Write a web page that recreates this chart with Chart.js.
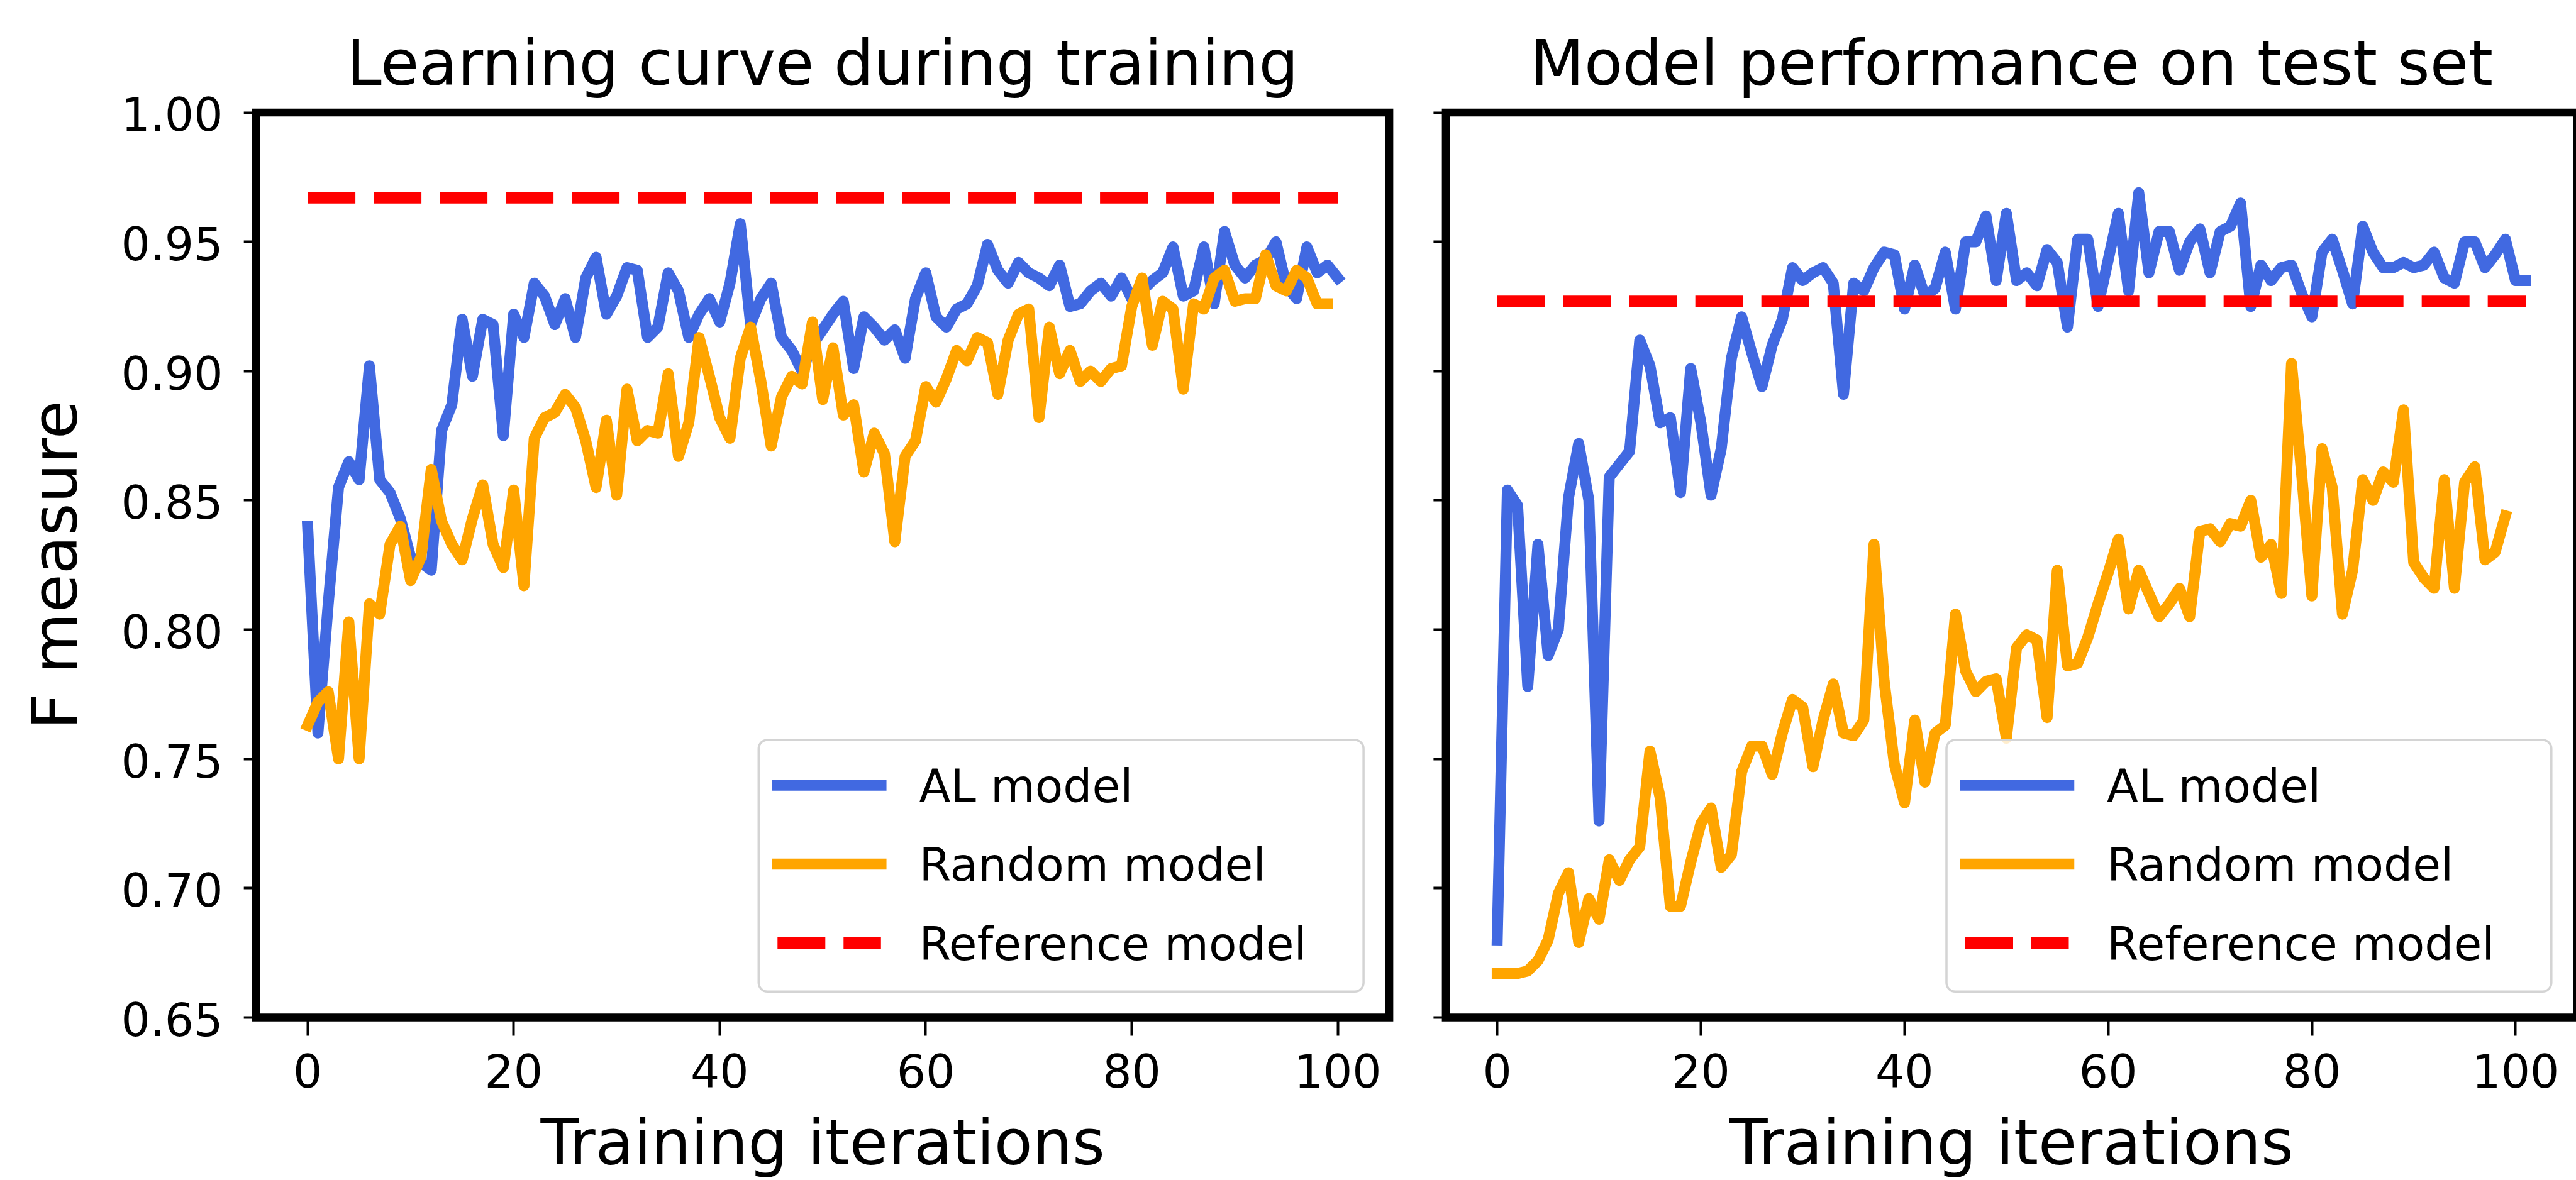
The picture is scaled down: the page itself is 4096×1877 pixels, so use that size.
<!DOCTYPE html>
<html>
<head>
<meta charset="utf-8">
<title>Learning curve / test performance</title>
<script src="https://cdn.jsdelivr.net/npm/chart.js@4.4.1/dist/chart.umd.min.js"></script>
<style>
  html, body { margin: 0; padding: 0; background: #fff; width: 4096px; height: 1877px; overflow: hidden; }
  canvas { position: absolute; top: 0; }
  #testChart { left: 2239px; }
  #trainChart { left: 0; }
</style>
</head>
<body>
<canvas id="testChart" width="1919" height="1877"></canvas>
<canvas id="trainChart" width="2616" height="1877"></canvas>
<script>
// Values (F measure per training iteration)
const alTrain = [
  0.840, 0.760, 0.810, 0.855, 0.865, 0.858, 0.902, 0.858, 0.853, 0.843,
  0.828, 0.826, 0.823, 0.877, 0.887, 0.920, 0.898, 0.920, 0.918, 0.875,
  0.922, 0.913, 0.934, 0.929, 0.918, 0.928, 0.913, 0.936, 0.944, 0.922,
  0.929, 0.940, 0.939, 0.913, 0.917, 0.938, 0.931, 0.913, 0.922, 0.928,
  0.919, 0.934, 0.957, 0.918, 0.928, 0.934, 0.913, 0.908, 0.900, 0.910,
  0.916, 0.922, 0.927, 0.901, 0.921, 0.917, 0.912, 0.916, 0.905, 0.928,
  0.938, 0.921, 0.917, 0.924, 0.926, 0.933, 0.949, 0.939, 0.934, 0.942,
  0.938, 0.936, 0.933, 0.941, 0.925, 0.926, 0.931, 0.934, 0.929, 0.936,
  0.928, 0.931, 0.935, 0.938, 0.948, 0.929, 0.931, 0.948, 0.926, 0.954,
  0.941, 0.936, 0.941, 0.943, 0.950, 0.933, 0.928, 0.948, 0.938, 0.941,
  0.936
];
const randomTrain = [
  0.763, 0.772, 0.776, 0.750, 0.803, 0.750, 0.810, 0.806, 0.833, 0.840,
  0.819, 0.828, 0.862, 0.842, 0.833, 0.827, 0.843, 0.856, 0.833, 0.824,
  0.854, 0.817, 0.874, 0.882, 0.884, 0.891, 0.886, 0.873, 0.855, 0.881,
  0.852, 0.893, 0.873, 0.877, 0.876, 0.899, 0.867, 0.880, 0.913, 0.898,
  0.882, 0.874, 0.905, 0.917, 0.896, 0.871, 0.890, 0.898, 0.895, 0.919,
  0.889, 0.909, 0.883, 0.887, 0.861, 0.876, 0.868, 0.834, 0.867, 0.873,
  0.894, 0.888, 0.897, 0.908, 0.904, 0.913, 0.911, 0.891, 0.912, 0.922,
  0.924, 0.882, 0.917, 0.899, 0.908, 0.896, 0.900, 0.896, 0.901, 0.902,
  0.925, 0.936, 0.910, 0.927, 0.924, 0.893, 0.926, 0.924, 0.936, 0.939,
  0.927, 0.928, 0.928, 0.945, 0.933, 0.931, 0.939, 0.936, 0.926, 0.926
];
const alTest = [
  0.680, 0.854, 0.848, 0.778, 0.833, 0.790, 0.800, 0.851, 0.872, 0.850,
  0.726, 0.859, 0.864, 0.869, 0.912, 0.902, 0.880, 0.882, 0.853, 0.901,
  0.880, 0.852, 0.870, 0.905, 0.921, 0.907, 0.894, 0.910, 0.920, 0.940,
  0.935, 0.938, 0.940, 0.934, 0.891, 0.934, 0.931, 0.940, 0.946, 0.945,
  0.924, 0.941, 0.929, 0.932, 0.946, 0.924, 0.950, 0.950, 0.960, 0.935,
  0.961, 0.935, 0.938, 0.933, 0.947, 0.942, 0.917, 0.951, 0.951, 0.925,
  0.943, 0.961, 0.931, 0.969, 0.938, 0.954, 0.954, 0.939, 0.950, 0.955,
  0.938, 0.954, 0.956, 0.965, 0.925, 0.941, 0.935, 0.940, 0.941, 0.930,
  0.921, 0.946, 0.951, 0.939, 0.926, 0.956, 0.946, 0.940, 0.940, 0.942,
  0.940, 0.941, 0.946, 0.936, 0.934, 0.950, 0.950, 0.940, 0.945, 0.951,
  0.935, 0.935
];
const randomTest = [
  0.667, 0.667, 0.667, 0.668, 0.672, 0.680, 0.698, 0.706, 0.679, 0.696,
  0.688, 0.711, 0.703, 0.711, 0.716, 0.753, 0.735, 0.693, 0.693, 0.710,
  0.725, 0.731, 0.708, 0.713, 0.745, 0.755, 0.755, 0.744, 0.760, 0.773,
  0.770, 0.747, 0.765, 0.779, 0.760, 0.759, 0.765, 0.833, 0.780, 0.748,
  0.733, 0.765, 0.741, 0.760, 0.763, 0.806, 0.784, 0.776, 0.780, 0.781,
  0.758, 0.793, 0.798, 0.796, 0.766, 0.823, 0.786, 0.787, 0.797, 0.810,
  0.822, 0.835, 0.808, 0.823, 0.814, 0.805, 0.810, 0.816, 0.805, 0.838,
  0.839, 0.834, 0.841, 0.840, 0.850, 0.828, 0.833, 0.814, 0.903, 0.860,
  0.813, 0.870, 0.855, 0.806, 0.823, 0.858, 0.850, 0.861, 0.857, 0.885,
  0.826, 0.820, 0.816, 0.858, 0.816, 0.857, 0.863, 0.827, 0.830, 0.844
];
const refTrain = 0.967;
const refTest = 0.927;

const xTicks = [0, 20, 40, 60, 80, 100];
const yTicks = [0.65, 0.70, 0.75, 0.80, 0.85, 0.90, 0.95, 1.00];

Chart.defaults.font.family = '"DejaVu Sans", sans-serif';
Chart.defaults.color = '#000';

const TEXT_BIG = 99.6;
const TEXT_SMALL = 72.8;

// matplotlib-like box around the axes
const spinePlugin = {
  id: 'spines',
  afterDatasetsDraw(chart) {
    const { ctx, chartArea: a } = chart;
    ctx.save();
    ctx.strokeStyle = '#000';
    ctx.lineWidth = 12.5;
    ctx.lineJoin = 'miter';
    ctx.strokeRect(a.left, a.top, a.right - a.left, a.bottom - a.top);
    ctx.restore();
  }
};

function roundedBox(ctx, x, y, w, h, r) {
  ctx.beginPath();
  ctx.moveTo(x + r, y);
  ctx.arcTo(x + w, y, x + w, y + h, r);
  ctx.arcTo(x + w, y + h, x, y + h, r);
  ctx.arcTo(x, y + h, x, y, r);
  ctx.arcTo(x, y, x + w, y, r);
  ctx.closePath();
}

// Legend drawn inside the plot, lower right corner
const insetLegend = {
  id: 'insetLegend',
  afterDraw(chart, args, opts) {
    const { ctx, chartArea: a } = chart;
    const x0 = a.right - opts.right - opts.width;
    const y0 = a.bottom - opts.bottom - opts.height;
    ctx.save();
    roundedBox(ctx, x0, y0, opts.width, opts.height, opts.radius);
    ctx.fillStyle = 'rgba(255,255,255,0.8)';
    ctx.fill();
    ctx.lineWidth = opts.borderWidth;
    ctx.strokeStyle = opts.borderColor;
    ctx.stroke();

    ctx.font = TEXT_SMALL + 'px "DejaVu Sans"';
    ctx.textAlign = 'left';
    ctx.textBaseline = 'alphabetic';
    chart.data.datasets.forEach((ds, k) => {
      const y = y0 + opts.firstRow + k * opts.rowGap;
      ctx.beginPath();
      ctx.setLineDash(ds.borderDash || []);
      ctx.lineCap = ds.borderCapStyle || 'butt';
      ctx.lineWidth = ds.borderWidth;
      ctx.strokeStyle = ds.borderColor;
      ctx.moveTo(x0 + opts.handleStart, y);
      ctx.lineTo(x0 + opts.handleEnd, y);
      ctx.stroke();
      ctx.setLineDash([]);
      ctx.fillStyle = '#000';
      ctx.fillText(ds.label, x0 + opts.textX, y + opts.textDrop);
    });
    ctx.restore();
  }
};

function series(label, values, color, order) {
  return {
    label,
    data: values.map((v, i) => ({ x: i, y: v })),
    borderColor: color,
    borderWidth: 17.5,
    borderCapStyle: 'square',
    borderJoinStyle: 'round',
    pointRadius: 0,
    tension: 0,
    fill: false,
    order
  };
}

function reference(value, lastX) {
  return {
    label: 'Reference model',
    data: [{ x: 0, y: value }, { x: lastX, y: value }],
    borderColor: '#ff0000',
    borderWidth: 18,
    borderDash: [76, 29],
    borderCapStyle: 'butt',
    pointRadius: 0,
    fill: false,
    order: 1
  };
}

function makePanel(id, opts) {
  const { title, al, random, ref, xMin, xMax, yWidth, rightWidth, showYLabels } = opts;
  return new Chart(document.getElementById(id), {
    type: 'line',
    data: {
      datasets: [
        series('AL model', al, '#4169e1', 3),
        series('Random model', random, '#ffa500', 2),
        reference(ref, al.length - 1)
      ]
    },
    plugins: [spinePlugin, insetLegend],
    options: {
      responsive: false,
      devicePixelRatio: 1,
      animation: false,
      layout: { padding: 0 },
      plugins: {
        legend: { display: false },
        tooltip: { enabled: false },
        title: {
          display: true,
          text: title,
          color: '#000',
          font: { size: TEXT_BIG, weight: 'normal', lineHeight: 1 },
          padding: { top: 59.4, bottom: 20 }
        },
        insetLegend: {
          width: 961.8, height: 400.4, right: 41, bottom: 41.2, radius: 14,
          borderWidth: 3.5, borderColor: '#d4d4d4',
          firstRow: 72.1, rowGap: 125.5,
          handleStart: 30, handleEnd: 194.5, textX: 255.1, textDrop: 26.8
        }
      },
      scales: {
        x: {
          type: 'linear',
          min: xMin,
          max: xMax,
          afterBuildTicks: s => { s.ticks = xTicks.map(v => ({ value: v })); },
          afterFit: s => { s.height = 258.5; },
          ticks: {
            font: { size: TEXT_SMALL },
            padding: 19.5,
            maxRotation: 0,
            autoSkip: false,
            callback: v => String(v)
          },
          grid: { drawOnChartArea: false, tickLength: 29, tickWidth: 4, tickColor: '#000' },
          border: { display: false },
          title: {
            display: true,
            text: 'Training iterations',
            font: { size: TEXT_BIG, lineHeight: 1 },
            padding: { top: 0, bottom: 1.3 }
          }
        },
        y: {
          type: 'linear',
          position: 'left',
          min: 0.65,
          max: 1.0,
          afterBuildTicks: s => { s.ticks = yTicks.map(v => ({ value: v })); },
          afterFit: s => { s.width = yWidth; },
          ticks: {
            display: showYLabels,
            font: { size: TEXT_SMALL },
            padding: 33.2,
            labelOffset: 10.5,
            callback: v => v.toFixed(2)
          },
          grid: { drawOnChartArea: false, tickLength: 19.5, tickWidth: 4, tickColor: '#000' },
          border: { display: false },
          title: {
            display: showYLabels,
            text: 'F measure',
            font: { size: TEXT_BIG, lineHeight: 1 },
            padding: { top: 46, bottom: 0 }
          }
        },
        // empty axis on the right keeps the title centred over the plot
        yMirror: {
          type: 'linear',
          axis: 'y',
          position: 'right',
          ticks: { display: false },
          grid: { display: false },
          border: { display: false },
          afterFit: s => { s.width = rightWidth; }
        }
      }
    }
  });
}

makePanel('trainChart', {
  title: 'Learning curve during training',
  al: alTrain, random: randomTrain, ref: refTrain,
  xMin: -5, xMax: 105,
  yWidth: 407.2, rightWidth: 406.9, showYLabels: true
});

makePanel('testChart', {
  title: 'Model performance on test set',
  al: alTest, random: randomTest, ref: refTest,
  xMin: -5.05, xMax: 106.05,
  yWidth: 59.9, rightWidth: 60.2, showYLabels: false
});
</script>
</body>
</html>
